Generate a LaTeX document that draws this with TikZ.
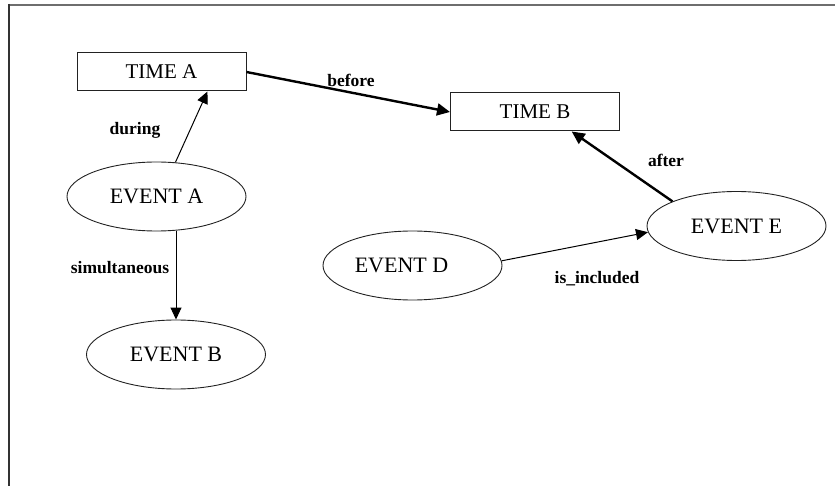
\documentclass[tikz,border=0pt]{standalone}
\usepackage{fontspec}
\setmainfont{Liberation Serif}
\usetikzlibrary{arrows.meta,shapes.geometric}
\definecolor{framegray}{HTML}{6E6E6E}
\definecolor{inkgray}{HTML}{222222}
\tikzset{
  timebox/.style={draw=inkgray, line width=1pt, rectangle, minimum width=169pt,
    minimum height=38pt, inner sep=0pt, font=\fontsize{21}{25}\selectfont},
  eventnode/.style={draw=inkgray, line width=0.9pt, ellipse, minimum width=179pt,
    minimum height=69pt, inner sep=0pt, font=\fontsize{22}{26}\selectfont},
  rel/.style={font=\fontsize{17.5}{20}\selectfont\bfseries, inner sep=0pt},
  thinlink/.style={draw=black, line width=1pt, -{Triangle[length=12pt,width=11pt]}},
  thicklink/.style={draw=black, line width=2.4pt, -{Triangle[length=13pt,width=12pt]}},
}
\begin{document}
\begin{tikzpicture}[x=1pt, y=-1pt]
  \useasboundingbox (0,0) rectangle (835,486);
  % window frame
  \draw[framegray, line width=2pt] (8,5) -- (835,5);
  \draw[black!80, line width=1.6pt] (9,4) -- (9,486);

  % time points
  \node[timebox] (timeA) at (161.5,72) {TIME A};
  \node[timebox] (timeB) at (535,112) {TIME B};

  % events
  \node[eventnode] (evA) at (156.5,196.5) {EVENT A};
  \node[eventnode] (evB) at (176,354.5) {EVENT B};
  \node[eventnode] (evD) at (412.5,265.5) {\hspace*{-22pt}EVENT D};
  \node[eventnode] (evE) at (736.5,226) {EVENT E};

  % relations
  \draw[thicklink] (timeA.east) -- (timeB.west);
  \draw[thinlink] (evA.61) -- (timeA.-23);
  \draw[thinlink] (evB.north |- evA.south) -- (evB.north);
  \draw[thinlink] (evD.3.5) -- (evE.184);
  \draw[thicklink] (evE.159) -- (timeB.-28.5);

  % relation labels
  \node[rel] (lbefore) at (351,80) {before};
  \node[rel] (lduring) at (135,130) {during};
  \node[rel] (lsim) at (120,268) {simultaneous};
  \node[rel] (lincl) at (597,279) {is\_included};
  \node[rel] (lafter) at (666,160) {after};
\end{tikzpicture}
\end{document}
